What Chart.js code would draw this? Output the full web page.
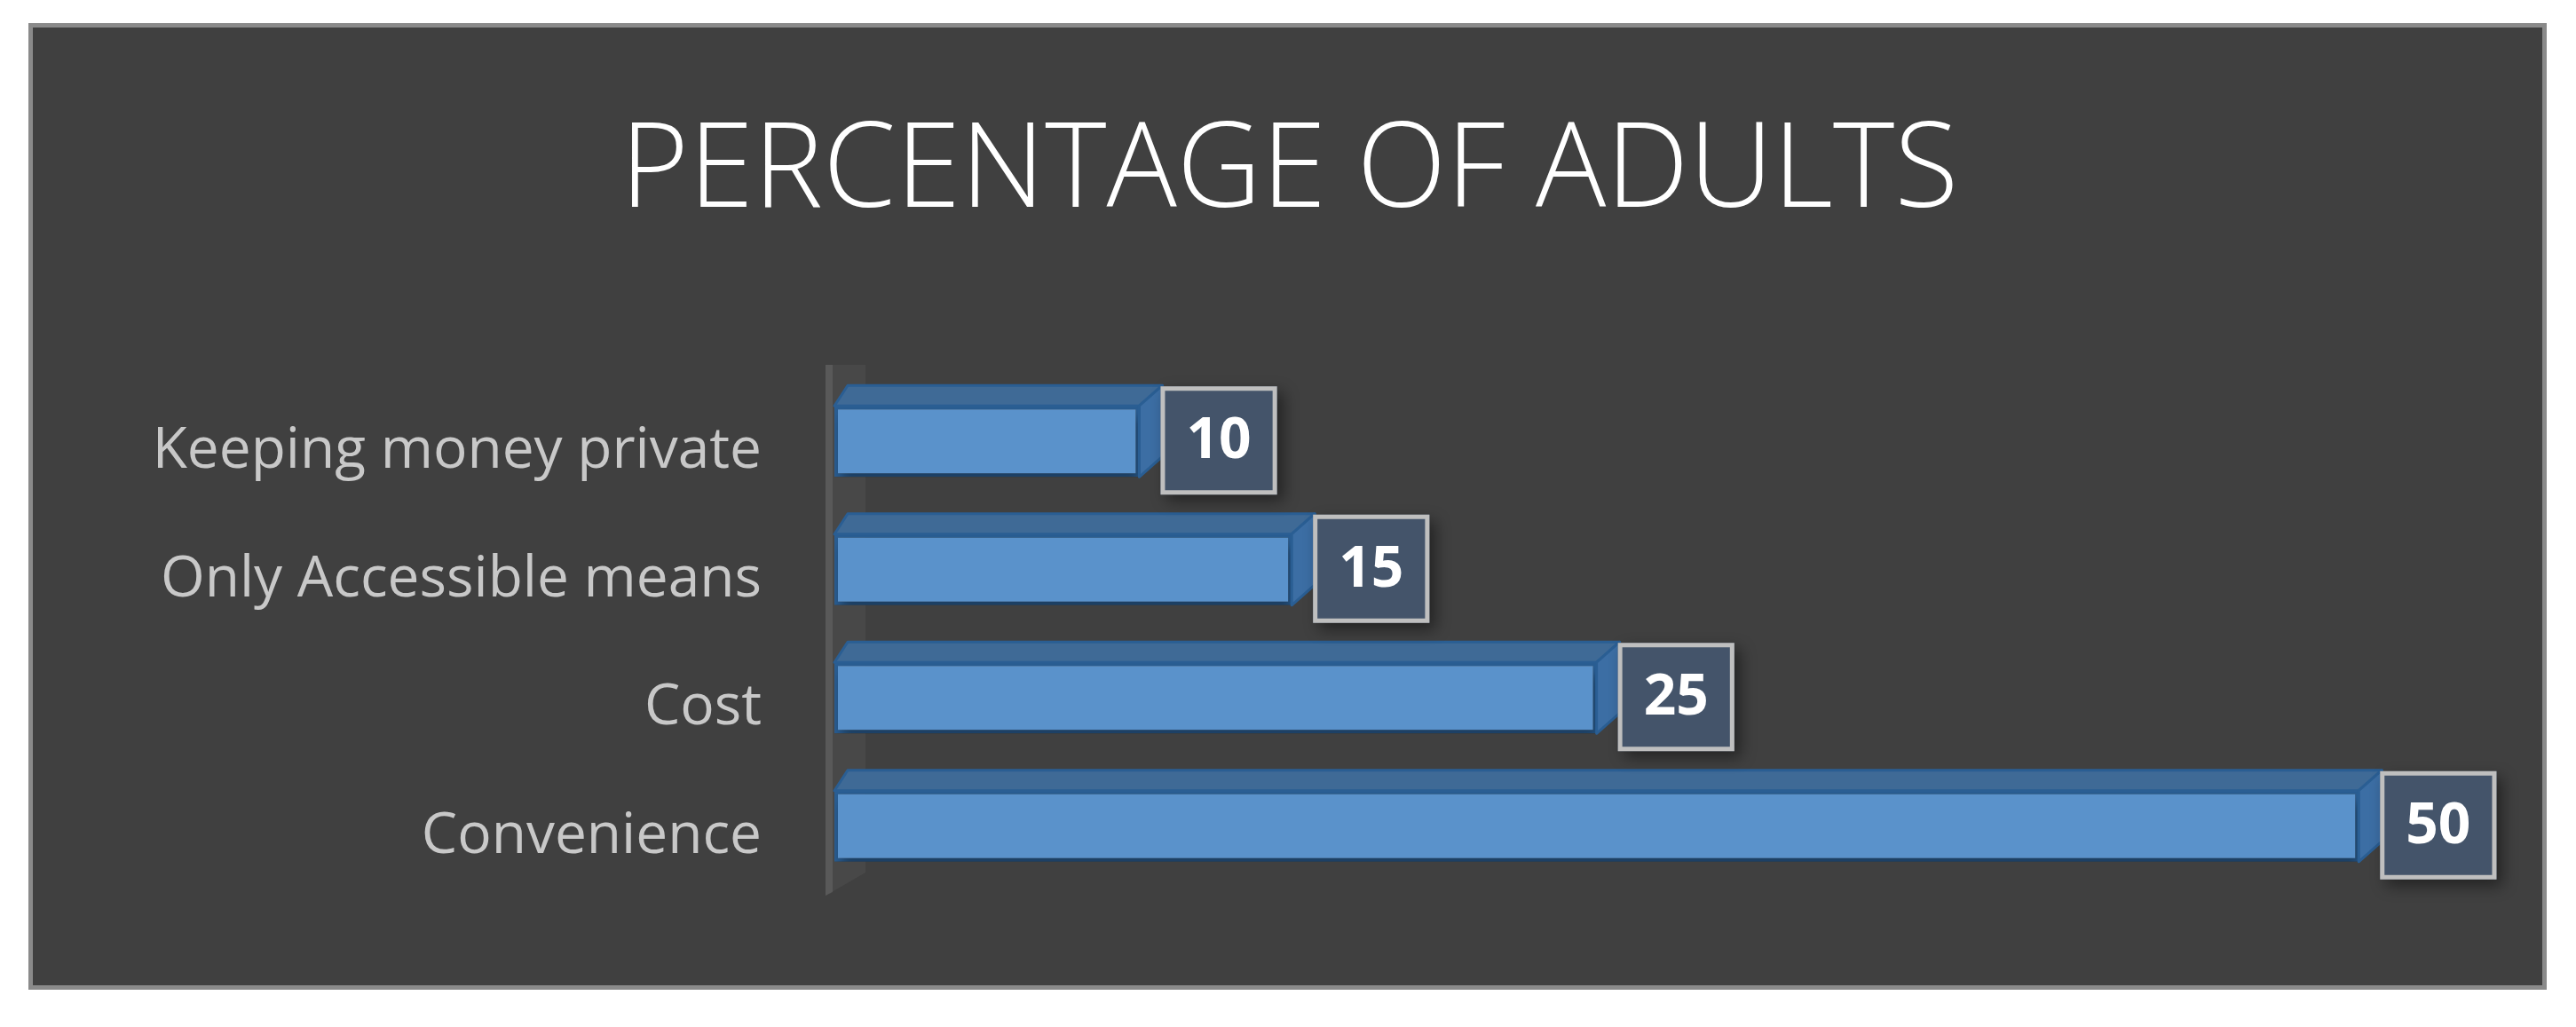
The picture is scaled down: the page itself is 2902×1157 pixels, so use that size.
<!DOCTYPE html>
<html>
<head>
<meta charset="utf-8">
<script src="https://cdn.jsdelivr.net/npm/chart.js@4.4.1/dist/chart.umd.min.js"></script>
<style>
  html, body { margin: 0; padding: 0; background: #ffffff; }
  #wrap { position: relative; width: 2902px; height: 1157px; }
</style>
</head>
<body>
<div id="wrap"><canvas id="c"></canvas></div>
<script>
const titleText = 'PERCENTAGE OF ADULTS';
const categories = ['Keeping money private', 'Only Accessible means', 'Cost', 'Convenience'];
const values = [10, 15, 25, 50];
const axisMin = 0;
const axisMax = 55;

// chart frame (dark panel with grey border)
const framePlugin = {
  id: 'framePanel',
  beforeDraw(chart) {
    const ctx = chart.ctx;
    ctx.save();
    ctx.fillStyle = '#8a8a8a';
    ctx.fillRect(32, 26, 2837, 1089);
    ctx.fillStyle = '#404040';
    ctx.fillRect(37, 31, 2827, 1079);
    ctx.restore();
  }
};

// faint 3D back wall at the start of the bars + bar shadows
const wallPlugin = {
  id: 'wall3d',
  beforeDatasetsDraw(chart) {
    const ctx = chart.ctx;
    const a = chart.chartArea;
    ctx.save();
    ctx.fillStyle = 'rgba(130,130,130,0.13)';
    ctx.beginPath();
    ctx.moveTo(a.left - 10, a.top - 14);
    ctx.lineTo(a.left + 35, a.top - 14);
    ctx.lineTo(a.left + 35, a.bottom - 20);
    ctx.lineTo(a.left - 10, a.bottom + 6);
    ctx.closePath();
    ctx.fill();
    ctx.fillStyle = 'rgba(140,140,140,0.25)';
    ctx.beginPath();
    ctx.moveTo(a.left - 10, a.top - 14);
    ctx.lineTo(a.left - 2, a.top - 14);
    ctx.lineTo(a.left - 2, a.bottom + 2);
    ctx.lineTo(a.left - 10, a.bottom + 6);
    ctx.closePath();
    ctx.fill();
    ctx.restore();
  },
  beforeDatasetDraw(chart) {
    const ctx = chart.ctx;
    ctx.save();
    ctx.shadowColor = 'rgba(0,0,0,0.35)';
    ctx.shadowBlur = 12;
    ctx.shadowOffsetY = 10;
    ctx.shadowOffsetX = 4;
  },
  afterDatasetDraw(chart) {
    chart.ctx.restore();
  }
};

// top and side faces of the 3D bars, derived from the bar elements
const bar3dPlugin = {
  id: 'bar3d',
  afterDatasetsDraw(chart) {
    const ctx = chart.ctx;
    const meta = chart.getDatasetMeta(0);
    const depthY = 23, dxL = 15, dxR = 26;
    ctx.save();
    ctx.lineJoin = 'round';
    meta.data.forEach((bar) => {
      const p = bar.getProps(['x', 'y', 'base', 'height'], true);
      const top = p.y - p.height / 2;
      const bottom = p.y + p.height / 2;
      // top face
      ctx.beginPath();
      ctx.moveTo(p.base, top);
      ctx.lineTo(p.x, top);
      ctx.lineTo(p.x + dxR, top - depthY);
      ctx.lineTo(p.base + dxL, top - depthY);
      ctx.closePath();
      ctx.fillStyle = '#3F6A96';
      ctx.fill();
      ctx.lineWidth = 3;
      ctx.strokeStyle = '#2A5E93';
      ctx.stroke();
      // right side face
      ctx.beginPath();
      ctx.moveTo(p.x, top);
      ctx.lineTo(p.x + dxR, top - depthY);
      ctx.lineTo(p.x + dxR, bottom - depthY);
      ctx.lineTo(p.x, bottom);
      ctx.closePath();
      ctx.fillStyle = '#3C6EA4';
      ctx.fill();
      ctx.stroke();
    });
    ctx.restore();
  }
};

// boxed value labels
const valueLabelPlugin = {
  id: 'valueLabels',
  afterDatasetsDraw(chart) {
    const ctx = chart.ctx;
    const meta = chart.getDatasetMeta(0);
    const ds = chart.data.datasets[0];
    ctx.save();
    ctx.font = 'bold 64px "Open Sans", "DejaVu Sans", sans-serif';
    meta.data.forEach((bar, i) => {
      const p = bar.getProps(['x', 'y'], true);
      const txt = String(ds.data[i]);
      const w = ctx.measureText(txt).width + 58;
      const h = 122;
      const bx = p.x + 24;
      const by = p.y - h / 2 - 1;
      ctx.save();
      ctx.shadowColor = 'rgba(0,0,0,0.45)';
      ctx.shadowBlur = 16;
      ctx.shadowOffsetX = 7;
      ctx.shadowOffsetY = 7;
      ctx.fillStyle = '#44546A';
      ctx.fillRect(bx, by, w, h);
      ctx.restore();
      ctx.lineWidth = 5;
      ctx.strokeStyle = '#BFBFBF';
      ctx.strokeRect(bx + 2.5, by + 2.5, w - 5, h - 5);
      ctx.fillStyle = '#ffffff';
      ctx.textAlign = 'center';
      ctx.textBaseline = 'middle';
      ctx.fillText(txt, bx + w / 2, by + h / 2 + 2);
    });
    ctx.restore();
  }
};

new Chart(document.getElementById('c'), {
  type: 'bar',
  data: {
    labels: categories,
    datasets: [{
      data: values,
      backgroundColor: '#5A92CB',
      borderColor: '#2A5E93',
      borderWidth: 4,
      borderSkipped: false,
      categoryPercentage: 1,
      barPercentage: 0.554
    }]
  },
  options: {
    indexAxis: 'y',
    responsive: true,
    maintainAspectRatio: false,
    animation: false,
    devicePixelRatio: 1,
    layout: { padding: { left: 76, right: 73, top: 0, bottom: 154 } },
    plugins: {
      legend: { display: false },
      tooltip: { enabled: false },
      title: {
        display: true,
        text: titleText,
        color: '#ffffff',
        font: { family: '"Open Sans", "DejaVu Sans", sans-serif', size: 132, weight: '300', lineHeight: 1 },
        padding: { top: 129, bottom: 164 }
      }
    },
    scales: {
      x: { display: false, min: axisMin, max: axisMax },
      y: {
        grid: { display: false },
        border: { display: false },
        ticks: {
          color: '#C8C8C8',
          font: { family: '"Open Sans", "DejaVu Sans", sans-serif', size: 64 },
          padding: 74,
          labelOffset: 12
        },
        afterFit(scale) { scale.width = 864; }
      }
    }
  },
  plugins: [framePlugin, wallPlugin, bar3dPlugin, valueLabelPlugin]
});
</script>
</body>
</html>
